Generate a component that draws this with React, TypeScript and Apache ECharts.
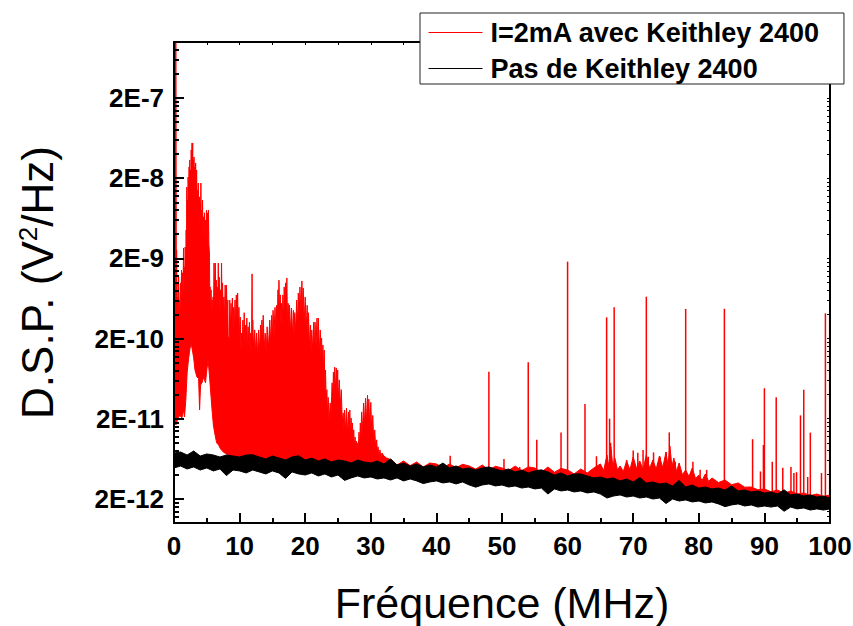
import { useEffect, useRef } from 'react';
import * as echarts from 'echarts';

const FONT = "'Liberation Sans', Arial, Helvetica, sans-serif";
// All spectral values below are in units of 1E-12 V²/Hz
const UNIT = 1e-12;

const RED_NAME = 'I=2mA avec Keithley 2400';
const BLACK_NAME = 'Pas de Keithley 2400';

// Red trace: upper envelope [MHz, value]
const redHighPoints: number[][] = [
  [0, 2000000], [0.3, 2000000], [0.33, 14200], [0.36, 605], [0.4, 2550], [0.43, 900], [0.47, 990], [0.5, 500],
  [0.55, 660], [0.62, 420], [0.7, 1170], [0.78, 560], [0.85, 605], [0.92, 450], [1.0, 990], [1.08, 620],
  [1.15, 1430], [1.22, 800], [1.3, 1320], [1.38, 700], [1.45, 2690], [1.5, 1200], [1.55, 1560], [1.62, 900],
  [1.7, 2770], [1.78, 1500], [1.85, 4500], [1.9, 2600], [1.95, 15500], [2.0, 6000], [2.05, 10700], [2.1, 6500],
  [2.15, 20700], [2.22, 9000], [2.3, 27600], [2.35, 14000], [2.4, 33800], [2.45, 15000], [2.5, 25300],
  [2.56, 16000], [2.62, 45000], [2.68, 24000], [2.75, 55000], [2.8, 30000], [2.85, 55000], [2.9, 22000],
  [2.95, 33800], [3.0, 19000], [3.05, 36800], [3.1, 16000], [3.15, 27600], [3.22, 14000], [3.3, 31000],
  [3.38, 13000], [3.45, 25300], [3.52, 9000], [3.6, 14200], [3.65, 8000], [3.7, 17400], [3.75, 7000],
  [3.8, 10700], [3.85, 6000], [3.9, 11700], [3.95, 5000], [4.0, 9800], [4.05, 6000], [4.1, 17400], [4.15, 5000],
  [4.2, 8000], [4.28, 4500], [4.35, 10700], [4.42, 4000], [4.5, 6600], [4.58, 3600], [4.65, 7400], [4.72, 3500],
  [4.8, 6000], [4.88, 3300], [4.95, 8000], [5.02, 4000], [5.1, 7400], [5.18, 3800], [5.25, 8000], [5.32, 3000],
  [5.4, 2330], [5.45, 700], [5.5, 880], [5.58, 450], [5.65, 810], [5.72, 380], [5.8, 605], [5.88, 330],
  [5.95, 660], [6.02, 400], [6.1, 1750], [6.2, 700], [6.3, 1750], [6.38, 600], [6.45, 1070], [6.52, 450],
  [6.6, 880], [6.68, 500], [6.75, 1750], [6.82, 600], [6.9, 1170], [7.0, 420], [7.1, 810], [7.18, 450],
  [7.25, 1750], [7.32, 500], [7.4, 990], [7.5, 380], [7.6, 660], [7.7, 350], [7.8, 930], [7.9, 400],
  [8.0, 930], [8.1, 330], [8.2, 605], [8.28, 150], [8.35, 209], [8.42, 170], [8.5, 605], [8.6, 260],
  [8.7, 550], [8.8, 280], [8.9, 640], [9.0, 260], [9.1, 490], [9.2, 250], [9.3, 605], [9.4, 300],
  [9.5, 700], [9.6, 320], [9.7, 740], [9.8, 260], [9.9, 490], [10.0, 190], [10.1, 370], [10.2, 150],
  [10.3, 234], [10.4, 140], [10.5, 340], [10.6, 170], [10.7, 420], [10.8, 160], [10.9, 295], [11.0, 150],
  [11.1, 360], [11.2, 140], [11.3, 280], [11.4, 150], [11.5, 320], [11.6, 130], [11.7, 234], [11.82, 150],
  [11.9, 1280], [11.95, 200], [12.0, 340], [12.15, 140], [12.3, 256], [12.45, 130], [12.6, 234], [12.75, 120],
  [12.9, 256], [13.05, 140], [13.2, 295], [13.3, 150], [13.4, 340], [13.5, 170], [13.6, 390], [13.75, 150],
  [13.9, 234], [14.05, 130], [14.2, 280], [14.4, 150], [14.6, 340], [14.75, 170], [14.9, 390], [15.0, 200],
  [15.1, 450], [15.25, 220], [15.4, 490], [15.52, 250], [15.65, 520], [15.75, 300], [15.85, 810], [15.92, 400],
  [16.0, 1070], [16.1, 380], [16.2, 700], [16.3, 300], [16.4, 550], [16.5, 280], [16.6, 700], [16.7, 350],
  [16.8, 880], [16.9, 400], [17.0, 990], [17.1, 450], [17.2, 1140], [17.3, 300], [17.4, 550], [17.5, 260],
  [17.6, 520], [17.75, 240], [17.9, 480], [18.05, 220], [18.2, 450], [18.3, 210], [18.4, 420], [18.55, 250],
  [18.7, 605], [18.82, 300], [18.95, 740], [19.08, 350], [19.2, 880], [19.35, 420], [19.5, 1045], [19.6, 420],
  [19.7, 855], [19.85, 320], [20.0, 660], [20.15, 260], [20.3, 520], [20.4, 220], [20.5, 420], [20.65, 160],
  [20.8, 295], [20.9, 130], [21.0, 256], [21.15, 140], [21.3, 320], [21.4, 150], [21.5, 320], [21.65, 160],
  [21.8, 360], [21.9, 150], [22.0, 360], [22.15, 130], [22.3, 256], [22.4, 110], [22.5, 203], [22.6, 90],
  [22.7, 166], [22.8, 75], [22.9, 144], [23.0, 50], [23.1, 81], [23.2, 30], [23.3, 46], [23.4, 22],
  [23.5, 37], [23.65, 18], [23.8, 31.4], [23.95, 25], [24.1, 56], [24.2, 35], [24.3, 76], [24.4, 40],
  [24.5, 88], [24.62, 45], [24.75, 86], [24.85, 40], [24.95, 81], [25.05, 35], [25.2, 61], [25.35, 28],
  [25.5, 46], [25.65, 18], [25.8, 23.6], [25.9, 14], [26.0, 25.7], [26.15, 14], [26.3, 27.2], [26.45, 13],
  [26.6, 24.3], [26.7, 13], [26.8, 25.7], [26.9, 12], [27.0, 20.4], [27.1, 11], [27.2, 17.7], [27.3, 10],
  [27.4, 14.5], [27.5, 9], [27.6, 11.8], [27.7, 8.5], [27.8, 10.5], [27.9, 8.0], [28.0, 10.0], [28.1, 8.2],
  [28.2, 13.6], [28.3, 9], [28.4, 17.7], [28.5, 11], [28.6, 24.3], [28.75, 14], [28.9, 31.4], [29.05, 17],
  [29.2, 36], [29.35, 18], [29.5, 39.5], [29.6, 19], [29.7, 35], [29.85, 16], [30.0, 32], [30.15, 13],
  [30.3, 22], [30.45, 10], [30.6, 14.5], [30.75, 8.5], [30.9, 10.9], [31.0, 7.5], [31.1, 8.9], [31.25, 7],
  [31.4, 8.15], [31.55, 6.5], [31.7, 7.47], [32.0, 6.85], [32.4, 6.47], [32.8, 6.29], [33.2, 6.11], [33.7, 5.61],
  [34, 5.3], [35, 5.94], [36, 5.2], [37, 5.77], [38, 5.0], [39, 5.6], [40, 5.45], [41, 4.9], [42, 5.45],
  [43, 4.9], [44, 5.4], [45, 5.14], [46, 4.7], [47, 5.29], [48, 4.6], [49, 5.1], [50, 4.86], [51, 4.5],
  [52, 5.14], [53, 4.5], [54, 5.0], [55, 4.86], [56, 4.3], [57, 5.0], [58, 4.3], [59, 4.8], [60, 4.58],
  [61, 4.1], [62, 4.72], [63, 4.2], [64, 4.86], [65, 5.45], [65.5, 4.5], [66, 7.05], [66.3, 5.0], [66.6, 8.9],
  [66.9, 5.0], [67.2, 6.47], [67.6, 4.6], [68, 5.14], [68.5, 4.4], [69, 5.94], [69.5, 4.6], [70, 6.66],
  [70.5, 4.8], [71, 5.94], [71.5, 4.6], [72, 7.05], [72.5, 4.8], [73, 6.11], [73.5, 4.7], [74, 6.85],
  [74.5, 4.9], [75, 7.69], [75.3, 5.2], [75.6, 9.1], [75.9, 5.0], [76.2, 6.47], [76.6, 4.4], [77, 5.61],
  [77.5, 4.0], [78, 4.58], [78.5, 3.8], [79, 4.86], [79.5, 3.6], [80, 3.97], [80.5, 3.4], [81, 4.09],
  [81.5, 3.3], [82, 3.65], [83, 3.2], [84, 3.44], [85, 3.0], [86, 3.16], [87, 2.8], [88, 2.81], [89, 2.6],
  [90, 2.66], [91, 2.45], [92, 2.58], [93, 2.35], [94, 2.51], [95, 2.3], [96, 2.37], [97, 2.2], [98, 2.3],
  [99, 2.15], [100, 2.24],
];

// Red trace: lower envelope
const redLowFreq = [0, 0.3, 0.6, 0.9, 1.2, 1.45, 1.6, 1.8, 2.0, 2.2, 2.4, 2.6, 2.8, 3.0, 3.2, 3.5, 3.75, 3.9, 4.05, 4.3,
  4.5, 4.8, 5.0, 5.2, 5.4, 5.6, 5.8, 6.0, 6.2, 6.5, 6.8, 7.1, 7.5, 8, 10, 20, 30, 40, 50, 60, 70, 80, 90, 100];
const redLowVal = [19.3, 16.7, 20.4, 22, 20.4, 25.7, 21, 34, 74, 108, 144, 176, 144, 114, 81, 66, 64, 25.7, 52.6, 57,
  66, 56, 81, 108, 70, 42, 25.7, 16.7, 13.3, 10, 9.4, 8.4, 7.69, 7.26, 5.77, 5.14, 4.72, 4.09, 3.75, 3.25, 2.66, 2.3, 1.99, 1.78];

// Red trace: narrow interference lines (peak and foot)
const spikeFreq = [42.1, 48.0, 50.3, 52.7, 54.0, 55.3, 59.0, 60.0, 62.65, 64.4,
  65.95, 66.4, 66.55, 67.1, 69.0, 70.0, 70.7, 71.5, 72.0, 72.3,
  73.1, 74.1, 75.0, 75.5, 76.4, 78.0, 79.1, 80.2, 81.2, 83.9,
  88.2, 89.4, 89.85, 90.0, 91.2, 91.8, 92.8, 94.05, 94.5, 94.9,
  95.5, 96.0, 96.6, 97.0, 98.7, 99.3, 99.95];
const spikePeak = [6.9, 77, 6.3, 5.0, 101, 10.9, 13.5, 1820, 30.5, 6.8,
  368, 20, 10, 490, 6.1, 8.0, 7.5, 8.15, 665, 6.7,
  7.6, 6.7, 7.6, 13.5, 5.8, 468, 5.8, 4.6, 4.6, 470,
  11.1, 4.4, 9.4, 48, 5.8, 37, 4.9, 5.0, 4.2, 4.3,
  22, 46, 3.75, 13.4, 4.2, 413, 374];
const spikeBase = [4.9, 4.6, 4.5, 4.3, 4.2, 4.4, 4.2, 3.9, 3.8, 3.7,
  3.6, 3.6, 3.6, 3.6, 3.5, 3.3, 3.3, 3.3, 3.2, 3.2,
  3.2, 3.1, 3.1, 3.1, 3.0, 2.8, 2.8, 2.7, 2.7, 2.6,
  2.4, 2.4, 2.4, 2.4, 2.4, 2.3, 2.3, 2.2, 2.2, 2.2,
  2.2, 2.2, 2.1, 2.1, 2.1, 2.1, 2.1];

// Black trace (no Keithley): band envelope, 1 MHz steps
const blackFreq = [0, 1, 2, 3, 4, 5, 6, 7, 8, 9, 10, 11, 12, 13, 14, 15, 16, 17, 18, 19, 20, 21, 22, 23, 24, 25, 26, 27, 28, 29,
  30, 31, 32, 33, 34, 35, 36, 37, 38, 39, 40, 41, 42, 43, 44, 45, 46, 47, 48, 49, 50, 51, 52, 53, 54, 55, 56, 57, 58, 59,
  60, 61, 62, 63, 64, 65, 66, 67, 68, 69, 70, 71, 72, 73, 74, 75, 76, 77, 78, 79, 80, 81, 82, 83, 84, 85, 86, 87, 88, 89,
  90, 91, 92, 93, 94, 95, 96, 97, 98, 99, 100];
const blackHigh = [7.47, 7.69, 7.05, 7.9, 6.85, 7.26, 7.05, 6.66, 7.05, 6.85,
  6.66, 7.05, 7.1, 6.66, 6.29, 6.85, 6.47, 6.11, 6.66, 6.9,
  6.11, 6.47, 5.94, 6.29, 5.77, 6.11, 5.94, 5.61, 6.11, 5.77,
  5.61, 5.94, 5.45, 6.3, 5.29, 5.61, 5.14, 5.45, 5.0, 5.29,
  5.0, 5.6, 4.86, 5.14, 4.72, 4.86, 4.58, 4.86, 5.0, 4.72,
  4.46, 4.72, 4.33, 4.58, 4.21, 4.46, 4.6, 4.33, 3.97, 4.21,
  3.86, 4.09, 4.1, 3.86, 3.65, 3.75, 3.54, 3.65, 3.35, 3.54,
  3.25, 3.7, 3.16, 3.25, 3.07, 3.16, 2.9, 3.4, 2.81, 2.98,
  2.73, 2.81, 2.66, 2.73, 2.58, 2.9, 2.51, 2.58, 2.44, 2.51,
  2.37, 2.44, 2.3, 2.6, 2.24, 2.3, 2.17, 2.24, 2.11, 2.17,
  2.05];
const blackLow = [4.86, 5.14, 4.72, 5.0, 4.58, 4.86, 4.46, 4.72, 3.9, 4.58,
  4.46, 4.21, 4.58, 4.33, 4.09, 4.46, 4.21, 3.6, 4.33, 4.09,
  3.97, 4.21, 3.86, 4.09, 3.75, 3.97, 3.4, 3.65, 3.86, 3.65,
  3.75, 3.54, 3.65, 3.44, 3.65, 3.35, 3.54, 3.35, 3.1, 3.25,
  3.35, 3.16, 3.25, 3.07, 3.25, 2.98, 2.8, 2.98, 3.07, 2.9,
  2.98, 2.81, 2.9, 2.73, 2.81, 2.66, 2.73, 2.3, 2.66, 2.51,
  2.58, 2.44, 2.51, 2.37, 2.44, 2.3, 2.05, 2.17, 2.24, 2.11,
  2.17, 2.05, 2.11, 1.99, 2.05, 1.75, 1.99, 1.88, 1.94, 1.83,
  1.88, 1.78, 1.83, 1.73, 1.6, 1.68, 1.73, 1.63, 1.68, 1.58,
  1.63, 1.58, 1.63, 1.4, 1.58, 1.5, 1.54, 1.45, 1.5, 1.45,
  1.5];

// Axis ticks
const yTickValues = [2e-12, 2e-11, 2e-10, 2e-9, 2e-8, 2e-7];
const yTickLabels = ['2E-12', '2E-11', '2E-10', '2E-9', '2E-8', '2E-7'];
const yMin = 1e-12;
const yMax = 1e-6;
const xMinorTicks = [5, 15, 25, 35, 45, 55, 65, 75, 85, 95];

const lg = (v: number) => Math.log10(v);
const L = (v: number) => Math.log10(v * UNIT);

export default function App() {
  const ref = useRef<HTMLDivElement>(null);
  useEffect(() => {
    if (!ref.current) return;
    const chart = echarts.init(ref.current, null, { renderer: 'svg' });

    const majorY = yTickValues.map(lg);
    const minorYVals: number[] = [];
    yTickValues.concat([2e-13]).forEach((d) => {
      for (let k = 2; k <= 9; k++) {
        const v = d * k;
        if (v > yMin * 1.001 && v < yMax * 0.999) minorYVals.push(v);
      }
    });
    const minorY = minorYVals.map(lg);

    const axisLineStyle = { color: '#000', width: 2 };
    const labelStyle = { fontFamily: FONT, fontWeight: 'bold' as const, fontSize: 26, color: '#000' };

    const yBase = { type: 'value', min: lg(yMin), max: lg(yMax), splitLine: { show: false }, gridIndex: 0, z: 10, nameMoveOverlap: false };
    const xBase = { type: 'value', min: 0, max: 100, splitLine: { show: false }, gridIndex: 0, z: 10, nameMoveOverlap: false };

    const option: any = {
      animation: false,
      backgroundColor: '#fff',
      grid: { left: 174, right: 23, top: 42, bottom: 103, containLabel: false, outerBoundsMode: 'none' },
      legend: {
        orient: 'vertical',
        left: 420,
        top: 13,
        padding: [6, 24, 2, 8],
        itemGap: 9,
        itemWidth: 54,
        itemHeight: 26,
        z: 20,
        backgroundColor: '#fff',
        borderColor: '#222',
        borderWidth: 1,
        itemStyle: { opacity: 0 },
        lineStyle: { width: 1 },
        data: [RED_NAME, BLACK_NAME],
        textStyle: { fontFamily: FONT, fontWeight: 'bold', fontSize: 27, color: '#000', padding: [0, 0, 0, 3] },
      },
      xAxis: [
        {
          ...xBase,
          position: 'bottom',
          interval: 10,
          axisLine: { show: true, onZero: false, lineStyle: axisLineStyle },
          axisTick: { show: true, inside: true, length: 10, lineStyle: { color: '#000', width: 2 } },
          axisLabel: { ...labelStyle, margin: 10 },
          name: 'Fréquence (MHz)',
          nameLocation: 'middle',
          nameGap: 58,
          nameTextStyle: { fontFamily: FONT, fontSize: 43, color: '#000' },
        },
        {
          ...xBase,
          position: 'bottom',
          axisLine: { show: false, onZero: false },
          axisTick: { show: true, inside: true, length: 5, customValues: xMinorTicks, lineStyle: { color: '#000', width: 2 } },
          axisLabel: { show: false },
        },
        {
          ...xBase,
          position: 'top',
          interval: 5,
          axisLine: { show: true, onZero: false, lineStyle: axisLineStyle },
          axisTick: { show: true, inside: true, length: 3, lineStyle: { color: '#000', width: 1 } },
          axisLabel: { show: false },
        },
      ],
      yAxis: [
        {
          ...yBase,
          position: 'left',
          axisLine: { show: true, onZero: false, lineStyle: axisLineStyle },
          axisTick: { show: true, inside: true, length: 10, customValues: majorY, lineStyle: { color: '#000', width: 2 } },
          axisLabel: {
            ...labelStyle,
            margin: 10,
            customValues: majorY,
            formatter: (val: number) => {
              const i = majorY.findIndex((t) => Math.abs(t - val) < 1e-6);
              return i >= 0 ? yTickLabels[i] : '';
            },
          },
          name: '{a|D.S.P. (V}{s|2}{a|/Hz)}',
          nameLocation: 'middle',
          nameGap: 115,
          nameTextStyle: {
            fontFamily: FONT,
            color: '#000',
            rich: {
              a: { fontFamily: FONT, fontSize: 44, color: '#000' },
              s: { fontFamily: FONT, fontSize: 26, color: '#000', verticalAlign: 'top' },
            },
          },
        },
        {
          ...yBase,
          position: 'left',
          axisLine: { show: false, onZero: false },
          axisTick: { show: true, inside: true, length: 5, customValues: minorY, lineStyle: { color: '#000', width: 2 } },
          axisLabel: { show: false },
        },
        {
          ...yBase,
          position: 'right',
          axisLine: { show: true, onZero: false, lineStyle: axisLineStyle },
          axisTick: { show: true, inside: true, length: 3, customValues: majorY.concat(minorY), lineStyle: { color: '#000', width: 1 } },
          axisLabel: { show: false },
        },
      ],
      series: [
        {
          name: RED_NAME,
          type: 'line',
          xAxisIndex: 0,
          yAxisIndex: 0,
          data: redHighPoints.map((p) => [p[0], L(p[1])]),
          symbol: 'none',
          silent: true,
          clip: true,
          z: 2,
          itemStyle: { color: '#ff0000' },
          lineStyle: { color: '#ff0000', width: 1 },
          areaStyle: { color: '#ff0000', opacity: 1, origin: 'start' },
        },
        {
          name: 'redLow',
          type: 'line',
          xAxisIndex: 0,
          yAxisIndex: 0,
          data: redLowFreq.map((f, i) => [f, L(redLowVal[i])]),
          symbol: 'none',
          silent: true,
          clip: true,
          z: 3,
          itemStyle: { color: '#ff0000' },
          lineStyle: { color: '#ff0000', width: 1 },
          areaStyle: { color: '#ffffff', opacity: 1, origin: 'start' },
        },
        {
          name: 'spikes',
          type: 'custom',
          xAxisIndex: 0,
          yAxisIndex: 0,
          silent: true,
          clip: true,
          z: 4,
          encode: { x: 0, y: [1, 2] },
          data: spikeFreq.map((f, i) => [f, L(spikeBase[i]), L(spikePeak[i])]),
          renderItem: (_params: any, api: any) => {
            const p0 = api.coord([api.value(0), api.value(1)]);
            const p1 = api.coord([api.value(0), api.value(2)]);
            return {
              type: 'line',
              shape: { x1: p0[0], y1: p0[1], x2: p1[0], y2: p1[1] },
              style: { stroke: '#ff0000', lineWidth: 1.5 },
            };
          },
        },
        {
          name: BLACK_NAME,
          type: 'line',
          xAxisIndex: 0,
          yAxisIndex: 0,
          data: blackFreq.map((f, i) => [f, L(blackHigh[i])]),
          symbol: 'none',
          silent: true,
          clip: true,
          z: 5,
          itemStyle: { color: '#000000' },
          lineStyle: { color: '#000000', width: 1 },
          areaStyle: { color: '#000000', opacity: 1, origin: 'start' },
        },
        {
          name: 'blackLow',
          type: 'line',
          xAxisIndex: 0,
          yAxisIndex: 0,
          data: blackFreq.map((f, i) => [f, L(blackLow[i])]),
          symbol: 'none',
          silent: true,
          clip: true,
          z: 6,
          itemStyle: { color: '#000000' },
          lineStyle: { color: '#000000', width: 1 },
          areaStyle: { color: '#ffffff', opacity: 1, origin: 'start' },
        },
      ],
    };

    chart.setOption(option);
    return () => chart.dispose();
  }, []);

  return (
    <div
      ref={ref}
      style={{ position: 'fixed', left: 0, top: 0, width: 853, height: 626, background: '#fff' }}
    />
  );
}
